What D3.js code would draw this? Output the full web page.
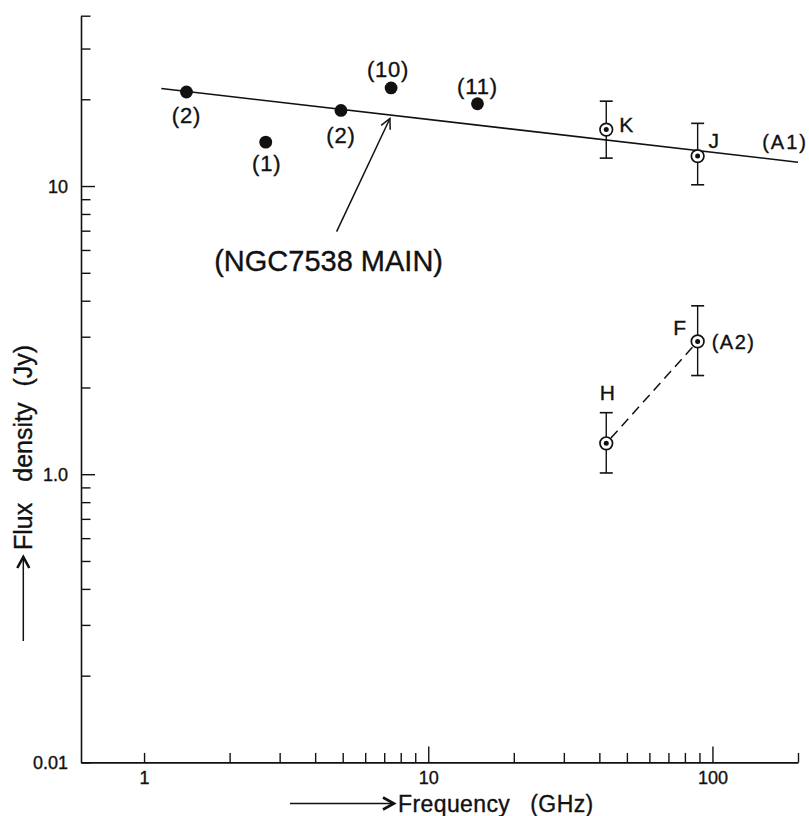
<!DOCTYPE html>
<html>
<head>
<meta charset="utf-8">
<script src="https://cdn.jsdelivr.net/npm/d3@7"></script>
<style>
  html, body { margin: 0; padding: 0; background: #fff; }
  svg { display: block; font-family: "Liberation Sans", Arial, Helvetica, sans-serif; }
  text { fill: #111; stroke: #111; stroke-width: 0.35px; }
</style>
</head>
<body>
<div id="chart"></div>
<script>
// single-dish points (filled), with the reference number shown next to them
const dotFreq = [1.41, 2.68, 4.93, 7.4, 14.9];
const dotFlux = [21.2, 14.2, 18.3, 21.9, 19.3];
const dotRefs = ["(2)", "(1)", "(2)", "(10)", "(11)"];

// interferometer points (circled) with error bars
const ringNames = ["K", "J", "H", "F"];
const ringFreq = [42.3, 88.7, 42.3, 88.7];
const ringFlux = [15.7, 12.7, 1.28, 2.89];
const ringLow = [12.5, 10.1, 1.01, 2.20];
const ringHigh = [19.7, 16.5, 1.635, 3.84];

// power-law fit through component A1
const fitFreq = [1.15, 200];
const fitFlux = [21.8, 12.1];

// arrow pointing at the main source spectrum
const arrowFreq = [4.76, 7.33];
const arrowFlux = [6.95, 17.15];

// axis ticks
const xMinor = [2, 3, 4, 5, 6, 7, 8, 9, 20, 30, 40, 50, 60, 70, 80, 90, 200];
const xMajor = [10, 100];
const xLabelled = [1, 10, 100];
const xLabels = ["1", "10", "100"];
const yMinor = [0.2, 0.3, 0.4, 0.5, 0.6, 0.7, 0.8, 0.9, 2, 3, 4, 5, 6, 7, 8, 9, 20, 30, 39];
const yMajor = [1, 10];
const yLabelled = [10, 1, 0.1];
const yLabels = ["10", "1.0", "0.01"];

const W = 809, H = 816;
const svg = d3.select('#chart').append('svg')
    .attr('width', W).attr('height', H)
    .style('background', 'white');

const x = d3.scaleLog().domain([0.6, 200]).range([81, 798]);
const y = d3.scaleLog().domain([0.1, 39]).range([762.4, 15.7]);

const ink = '#111';

// ---- x axis
const xAxis = d3.axisBottom(x)
    .tickValues(xMinor.concat(xMajor, [1]))
    .tickSizeOuter(0)
    .tickFormat(d => {
        let i = xLabelled.indexOf(d);
        return i >= 0 ? xLabels[i] : '';
    });
const gx = svg.append('g')
    .attr('transform', `translate(0,${y(0.1)})`)
    .call(xAxis)
    .attr('font-size', 18)
    .attr('font-family', '"Liberation Sans", Arial, sans-serif');
gx.select('.domain').attr('stroke', ink).attr('stroke-width', 1.6);
gx.selectAll('.tick line')
    .attr('stroke', ink).attr('stroke-width', 1.4)
    .attr('y2', d => xMajor.includes(d) ? -16 : -9.5);
gx.selectAll('.tick text')
    .attr('y', 9).attr('dy', '0.71em')
    .style('font-size', '18px');

// ---- y axis
const yAxis = d3.axisLeft(y)
    .tickValues(yMinor.concat(yMajor, [0.1]))
    .tickSizeOuter(0)
    .tickFormat(d => {
        let i = yLabelled.indexOf(d);
        return i >= 0 ? yLabels[i] : '';
    });
const gy = svg.append('g')
    .attr('transform', `translate(${x(0.6)},0)`)
    .call(yAxis)
    .attr('font-size', 18)
    .attr('font-family', '"Liberation Sans", Arial, sans-serif');
gy.select('.domain').attr('stroke', ink).attr('stroke-width', 1.6);
gy.selectAll('.tick line')
    .attr('stroke', ink).attr('stroke-width', 1.4)
    .attr('x2', d => yMajor.includes(d) ? 14 : 9.5);
gy.selectAll('.tick text')
    .attr('x', -13).attr('dy', '0.36em')
    .style('font-size', '18px');

// ---- axis titles with their arrows
function chevron(g, tx, ty, angle) {
    g.append('path')
        .attr('d', 'M-11,-6 L0,0 L-11,6')
        .attr('transform', `translate(${tx},${ty}) rotate(${angle})`)
        .attr('fill', 'none').attr('stroke', ink)
        .attr('stroke-width', 2.6).attr('stroke-linejoin', 'miter');
}

const titles = svg.append('g');
titles.append('line')
    .attr('x1', 290).attr('x2', 393).attr('y1', 803.5).attr('y2', 803.5)
    .attr('stroke', ink).attr('stroke-width', 1.5);
chevron(titles, 394, 803.5, 0);
titles.append('text')
    .attr('x', 398).attr('y', 811.5)
    .style('font-size', '23px').style('letter-spacing', '0.4px')
    .text('Frequency')
    .append('tspan').attr('dx', 20).text('(GHz)');

titles.append('line')
    .attr('x1', 23.3).attr('x2', 23.3).attr('y1', 641).attr('y2', 559)
    .attr('stroke', ink).attr('stroke-width', 1.5);
chevron(titles, 23.3, 557, -90);
titles.append('text')
    .attr('transform', 'translate(31.5,550) rotate(-90)')
    .style('font-size', '25px')
    .text('Flux')
    .call(t => t.append('tspan').attr('dx', 21).text('density'))
    .call(t => t.append('tspan').attr('dx', 16).text('(Jy)'));

// ---- fit line for A1
const fit = fitFreq.map((f, i) => [f, fitFlux[i]]);
svg.append('path')
    .datum(fit)
    .attr('d', d3.line().x(d => x(d[0])).y(d => y(d[1])))
    .attr('fill', 'none').attr('stroke', ink).attr('stroke-width', 1.6);
svg.append('text')
    .attr('x', x(fitFreq[1]) + 10).attr('y', y(fitFlux[1]) - 13)
    .attr('text-anchor', 'end')
    .style('font-size', '20px').style('letter-spacing', '2px')
    .text('(A1)');

// ---- dashed segment for A2 (H -> F)
const rings = ringNames.map((n, i) => ({
    name: n, f: ringFreq[i], s: ringFlux[i], lo: ringLow[i], hi: ringHigh[i]
}));
const hP = rings.find(d => d.name === 'H'), fP = rings.find(d => d.name === 'F');
{
    let x1 = x(hP.f), y1 = y(hP.s), x2 = x(fP.f), y2 = y(fP.s);
    let len = Math.hypot(x2 - x1, y2 - y1), ux = (x2 - x1) / len, uy = (y2 - y1) / len;
    let r = 7;
    svg.append('line')
        .attr('x1', x1 + ux * r).attr('y1', y1 + uy * r)
        .attr('x2', x2 - ux * r).attr('y2', y2 - uy * r)
        .attr('stroke', ink).attr('stroke-width', 1.5)
        .attr('stroke-dasharray', '10,6');
}
svg.append('text')
    .attr('x', x(fP.f) + 14).attr('y', y(fP.s)).attr('dy', '0.36em')
    .style('font-size', '20px').style('letter-spacing', '1.5px')
    .text('(A2)');

// ---- error bars and circled points
const eb = svg.append('g').selectAll('g')
    .data(rings).join('g');
eb.append('line')
    .attr('x1', d => x(d.f)).attr('x2', d => x(d.f))
    .attr('y1', d => y(d.hi)).attr('y2', d => y(d.lo))
    .attr('stroke', ink).attr('stroke-width', 1.4);
eb.selectAll('line.cap')
    .data(d => [[d.f, d.hi], [d.f, d.lo]])
    .join('line').attr('class', 'cap')
    .attr('x1', d => x(d[0]) - 6.5).attr('x2', d => x(d[0]) + 6.5)
    .attr('y1', d => y(d[1])).attr('y2', d => y(d[1]))
    .attr('stroke', ink).attr('stroke-width', 1.6);
eb.append('circle')
    .attr('cx', d => x(d.f)).attr('cy', d => y(d.s)).attr('r', 6.3)
    .attr('fill', 'white').attr('stroke', ink).attr('stroke-width', 1.7);
eb.append('circle')
    .attr('cx', d => x(d.f)).attr('cy', d => y(d.s)).attr('r', 2.5)
    .attr('fill', ink);

// ring labels sit at different sides of each point
const ringLabelPos = { K: [20, -5, 'middle'], J: [16, -16, 'middle'], H: [1, -51, 'middle'], F: [-18, -14, 'middle'] };
eb.append('text')
    .attr('x', d => x(d.f) + ringLabelPos[d.name][0])
    .attr('y', d => y(d.s) + ringLabelPos[d.name][1])
    .attr('dy', '0.36em')
    .attr('text-anchor', d => ringLabelPos[d.name][2])
    .style('font-size', '21px')
    .text(d => d.name);

// ---- filled single-dish points
const dots = dotFreq.map((f, i) => ({ f, s: dotFlux[i], ref: dotRefs[i], i }));
const dotLabelPos = [[0, 23], [1, 21], [0, 25], [-3, -19], [0, -18]];
const dg = svg.append('g').selectAll('g').data(dots).join('g');
dg.append('circle')
    .attr('cx', d => x(d.f)).attr('cy', d => y(d.s)).attr('r', 6.4)
    .attr('fill', ink);
dg.append('text')
    .attr('x', d => x(d.f) + dotLabelPos[d.i][0])
    .attr('y', d => y(d.s) + dotLabelPos[d.i][1])
    .attr('dy', '0.36em').attr('text-anchor', 'middle')
    .style('font-size', '22px').style('letter-spacing', '0.8px')
    .text(d => d.ref);

// ---- annotation arrow and label for the main source
{
    let x1 = x(arrowFreq[0]), y1 = y(arrowFlux[0]), x2 = x(arrowFreq[1]), y2 = y(arrowFlux[1]);
    svg.append('line')
        .attr('x1', x1).attr('y1', y1).attr('x2', x2).attr('y2', y2)
        .attr('stroke', ink).attr('stroke-width', 1.5);
    let ang = Math.atan2(y2 - y1, x2 - x1) * 180 / Math.PI;
    svg.append('path')
        .attr('d', 'M-10,-5 L0,0 L-10,5')
        .attr('transform', `translate(${x2},${y2}) rotate(${ang})`)
        .attr('fill', 'none').attr('stroke', ink).attr('stroke-width', 1.5);
    svg.append('text')
        .attr('x', x1 - 8).attr('y', y1 + 39)
        .attr('text-anchor', 'middle')
        .style('font-size', '29px')
        .text('(NGC7538 MAIN)');
}
</script>
</body>
</html>
